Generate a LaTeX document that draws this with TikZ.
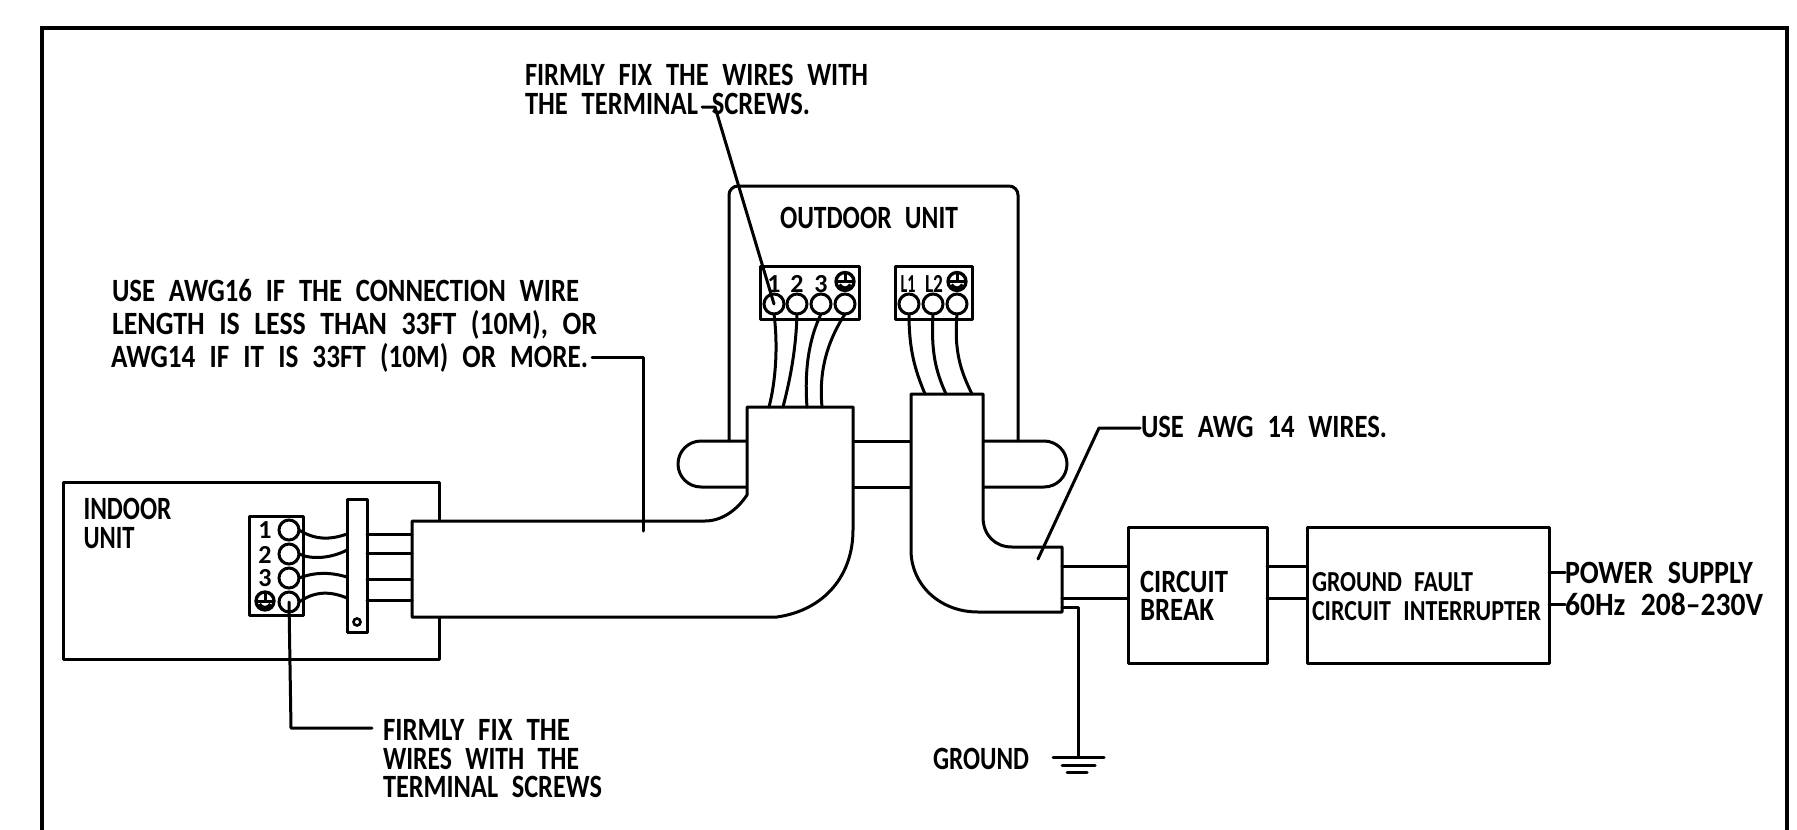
\documentclass[tikz,border=0pt]{standalone}
\usepackage{fontspec}
\usepackage{graphicx}
\newfontfamily\labfont[WordSpace=2.3]{Carlito}
\newcommand{\fitto}[2]{\resizebox{#1pt}{\height}{#2}}
\tikzset{
  x=1pt,y=-1pt,
  wire/.style={line width=3pt,line join=round,line cap=round},
  frameline/.style={line width=4pt,line join=miter},
  boxn/.style={draw,line width=3pt,rectangle,inner sep=0pt,outer sep=0pt,line join=round},
  term/.style={draw,line width=3pt,circle,minimum size=20pt,inner sep=0pt,outer sep=0pt},
  lab/.style={anchor=base west,inner sep=0pt,outer sep=0pt,font=\labfont\fontsize{32.5}{32.5}\selectfont\bfseries},
  labsm/.style={anchor=base west,inner sep=0pt,outer sep=0pt,font=\labfont\fontsize{29}{29}\selectfont\bfseries},
  num/.style={inner sep=0pt,outer sep=0pt,anchor=base,font=\labfont\fontsize{26}{26}\selectfont\bfseries},
  conduit/.style={wire,fill=white},
  earth/.pic={
    \draw[line width=3.3pt] (0,0) circle[radius=9];
    \draw[line width=3pt] (-9,0) -- (9,0) (0,-9) -- (0,0);
    \draw[line width=3pt] (-5.5,3) .. controls (-3,7.5) and (3,7.5) .. (5.5,3);
  }
}
\begin{document}
\begin{tikzpicture}
\useasboundingbox (0,0) rectangle (1797,830);
% outer frame
\coordinate (fbl) at (42,832);
\coordinate (ftl) at (42,28);
\coordinate (ftr) at (1787,28);
\coordinate (fbr) at (1787,832);
\draw[frameline] (fbl) -- (ftl) -- (ftr) -- (fbr);

% indoor unit
\node[boxn,minimum width=376pt,minimum height=177pt] (indoor) at (251,570.5) {};
\node[boxn,minimum width=54pt,minimum height=99pt] (itb) at (276,565.5) {};
\node[boxn,minimum width=20pt,minimum height=133pt] (clamp) at (357,565.5) {};
\node[draw,line width=2.6pt,circle,minimum size=7pt,inner sep=0pt,outer sep=0pt] (clampdot) at (357,622) {};
\node[term] (i1) at (289,530) {};
\node[term] (i2) at (289,554) {};
\node[term] (i3) at (289,578) {};
\node[term] (i4) at (289,602) {};
\node[num] (in1) at (265,538) {1};
\node[num] (in2) at (265,563) {2};
\node[num] (in3) at (265,586) {3};
\pic at (265,601) {earth};

% outdoor unit
\coordinate (obl) at (729,441);
\coordinate (obr) at (1018,441);
\draw[wire,rounded corners=9pt] (obl) -- (729,186) -- (1018,186) -- (obr);
\node[boxn,minimum width=99pt,minimum height=53pt] (tba) at (809.5,292.5) {};
\node[boxn,minimum width=77pt,minimum height=53pt] (tbb) at (933.5,292.5) {};
\node[term] (a1) at (774,304) {};
\node[term] (a2) at (797,304) {};
\node[term] (a3) at (821,304) {};
\node[term] (a4) at (845,304) {};
\node[term] (b1) at (909,304) {};
\node[term] (b2) at (933,304) {};
\node[term] (b3) at (957,304) {};
\node[num] (an1) at (774,292) {1};
\node[num] (an2) at (797,292) {2};
\node[num] (an3) at (821,292) {3};
\pic at (845,281.5) {earth};
\node[num] (bn1) at (908,292) {\resizebox{15pt}{\height}{L1}};
\node[num] (bn2) at (934,292) {\resizebox{18pt}{\height}{L2}};
\pic at (957,281.5) {earth};

% wall pipe
\coordinate (pl1) at (747,441); \coordinate (pl2) at (747,487);
\coordinate (pm1) at (853,441); \coordinate (pm2) at (853,487);
\coordinate (pn1) at (911,441); \coordinate (pn2) at (911,487);
\coordinate (pr1) at (983,441); \coordinate (pr2) at (983,487);
\draw[wire] (pl1) -- (701,441) arc[start angle=-90,end angle=-270,radius=23] -- (pl2);
\draw[wire] (pm1) -- (pn1) (pm2) -- (pn2);
\draw[wire] (pr1) -- (1044,441) arc[start angle=-90,end angle=90,radius=23] -- (pr2);

% conduit 1
\coordinate (c1a) at (769,407); \coordinate (c1b) at (783,407);
\coordinate (c1c) at (807,407); \coordinate (c1d) at (822,407);
\coordinate (c1w1) at (412,534); \coordinate (c1w2) at (412,553);
\coordinate (c1w3) at (412,579); \coordinate (c1w4) at (412,600);
\draw[conduit] (412,521) -- (705,521) .. controls (722,521) and (737,510) .. (747,495)
  -- (747,407) -- (853,407) -- (853,530) .. controls (853,575) and (825,610) .. (777,617)
  -- (412,617) -- cycle;
% conduit 2
\coordinate (c2a) at (925,394); \coordinate (c2b) at (946,394); \coordinate (c2c) at (972,394);
\coordinate (c2e) at (1062,566); \coordinate (c2f) at (1062,598); \coordinate (c2g) at (1062,607);
\draw[conduit] (911,394) -- (983,394) -- (983,517) .. controls (983,535) and (995,547) .. (1012,547)
  -- (1062,547) -- (1062,612) -- (978,612) .. controls (940,612) and (911,585) .. (911,550) -- cycle;

% wires in outdoor unit
\draw[wire] (a1.south) .. controls (778,345) and (776,380) .. (c1a);
\draw[wire] (a2.south) .. controls (796,350) and (790,380) .. (c1b);
\draw[wire] (a3.south) .. controls (806,345) and (805,380) .. (c1c);
\draw[wire] (a4.south) .. controls (825,345) and (819,375) .. (c1d);
\draw[wire] (b1.south) .. controls (909,350) and (915,370) .. (c2a);
\draw[wire] (b2.south) .. controls (931,350) and (935,370) .. (c2b);
\draw[wire] (b3.south) .. controls (954,350) and (960,370) .. (c2c);

% wires in indoor unit
\coordinate (k1) at (347,534); \coordinate (k2) at (347,550);
\coordinate (k3) at (347,577); \coordinate (k4) at (347,598);
\coordinate (m1) at (367,534); \coordinate (m2) at (367,553);
\coordinate (m3) at (367,579); \coordinate (m4) at (367,600);
\draw[wire] (i1.east) .. controls (315,540) and (330,540) .. (k1);
\draw[wire] (i2.east) .. controls (312,560) and (332,558) .. (k2);
\draw[wire] (i3.east) .. controls (315,572) and (330,572) .. (k3);
\draw[wire] (i4.east) .. controls (315,591) and (330,591) .. (k4);
\draw[wire] (m1) -- (c1w1);
\draw[wire] (m2) -- (c1w2);
\draw[wire] (m3) -- (c1w3);
\draw[wire] (m4) -- (c1w4);

% breaker and GFCI
\node[boxn,minimum width=139pt,minimum height=136pt] (cb) at (1197.5,595) {};
\node[boxn,minimum width=242pt,minimum height=136pt] (gfci) at (1428,595) {};
\draw[wire] (c2e) -- (c2e -| cb.west);
\draw[wire] (c2f) -- (c2f -| cb.west);
\coordinate (cb1) at (1267,566); \coordinate (cb2) at (1267,598);
\draw[wire] (cb1) -- (cb1 -| gfci.west);
\draw[wire] (cb2) -- (cb2 -| gfci.west);
\coordinate (gf1) at (1549,572); \coordinate (gf2) at (1549,604);
\coordinate (ps1) at (1565,572); \coordinate (ps2) at (1565,604);
\draw[wire] (gf1) -- (ps1);
\draw[wire] (gf2) -- (ps2);

% ground
\coordinate (gt) at (1078,607);
\coordinate (gb) at (1078,757);
\draw[wire] (c2g) -- (gt) -- (gb);
\draw[wire] (1053,757) -- (1104,757);
\draw[wire] (1062,765) -- (1095,765);
\draw[wire] (1067,772) -- (1087,772);

% leaders
\coordinate (la0) at (702,107); \coordinate (la1) at (715,107);
\draw[wire] (la0) -- (la1) -- (a1.center);
\coordinate (lb0) at (592,357); \coordinate (lb1) at (643,357); \coordinate (lb2) at (643,531);
\draw[wire] (lb0) -- (lb1) -- (lb2);
\coordinate (lc0) at (1140,428); \coordinate (lc1) at (1099,428); \coordinate (lc2) at (1038,559);
\draw[wire] (lc0) -- (lc1) -- (lc2);
\coordinate (ld1) at (291,728); \coordinate (ld2) at (372,728);
\draw[wire] (i4.center) -- (ld1) -- (ld2);

% labels
\node[lab] (t1) at (525,85) {\fitto{343}{FIRMLY FIX THE WIRES WITH}};
\node[lab] (t2) at (525,114) {\fitto{285}{THE TERMINAL SCREWS.}};
\node[lab] (t3) at (112,301) {\fitto{467}{USE AWG16 IF THE CONNECTION WIRE}};
\node[lab] (t4) at (112,334) {\fitto{485}{LENGTH IS LESS THAN 33FT (10M), OR}};
\node[lab] (t5) at (111,367) {\fitto{477}{AWG14 IF IT IS 33FT (10M) OR MORE.}};
\node[lab] (t6) at (780,228) {\fitto{178}{OUTDOOR UNIT}};
\node[lab] (t7) at (83.5,519) {\fitto{88}{INDOOR}};
\node[lab] (t8) at (83.5,548) {\fitto{51}{UNIT}};
\node[lab] (t9) at (383,740) {\fitto{187}{FIRMLY FIX THE}};
\node[lab] (t10) at (383,769) {\fitto{196}{WIRES WITH THE}};
\node[lab] (t11) at (383,797) {\fitto{219}{TERMINAL SCREWS}};
\node[lab] (t12) at (1141,437) {\fitto{246}{USE AWG 14 WIRES.}};
\node[lab] (t13) at (1140,592) {\fitto{88}{CIRCUIT}};
\node[lab] (t14) at (1140,620) {\fitto{74}{BREAK}};
\node[lab] (t15) at (933,769) {\fitto{96}{GROUND}};
\node[labsm] (t16) at (1312,591) {\fitto{161}{GROUND FAULT}};
\node[labsm] (t17) at (1312,620) {\fitto{229}{CIRCUIT INTERRUPTER}};
\node[lab] (t18) at (1565,583) {\fitto{188}{POWER SUPPLY}};
\node[lab] (t19) at (1565,615) {\fitto{198}{60Hz 208–230V}};
\end{tikzpicture}
\end{document}
